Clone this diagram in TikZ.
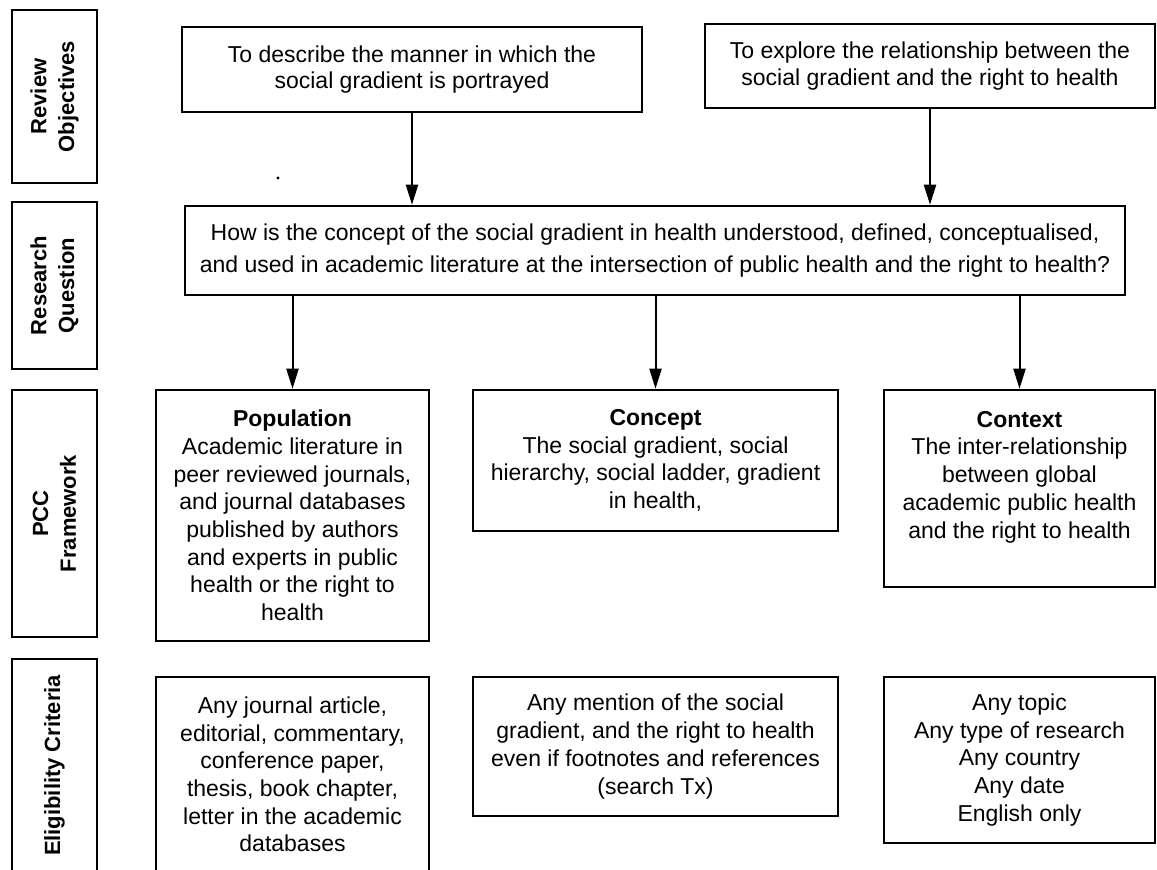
\documentclass[tikz,border=0pt]{standalone}
\usepackage{fontspec}
\setmainfont{Liberation Sans}
\usetikzlibrary{arrows.meta}
\newcommand{\hd}[1]{\textbf{#1}}
\tikzstyle{side}=[draw, line width=1.25pt, rotate=90, align=center, inner sep=0pt, minimum height=42.5pt, font=\fontsize{11}{13.85}\selectfont\bfseries]
\tikzstyle{bx}=[draw, line width=1.25pt, align=center, inner sep=2pt, font=\fontsize{11.5}{13.85}\selectfont]
\tikzstyle{arr}=[line width=1pt, -{Triangle[length=10pt,width=6pt]}]

\begin{document}
\begin{tikzpicture}[x=0.5pt, y=-0.5pt]
  \useasboundingbox (0,0) rectangle (1157,870);
  \clip (0,0) rectangle (1157,870);
  \node[side, minimum width=86.5pt] (sRO) at (54.5,96.5) {Review\\Objectives};
  \node[side, minimum width=83.5pt] (sRQ) at (54.5,285.5) {Research\\Question};
  \node[side, minimum width=123.5pt] (sPCC) at (54.5,513.5) {PCC\\Framework};
  \node[side, minimum width=106.5pt] (sEC) at (54.5,765.5) {Eligibility Criteria};

  \node[bx, minimum width=230pt, minimum height=42.5pt, font=\fontsize{11.5}{13.35}\selectfont] (obj1) at (412,69.5)
    {To describe the manner in which the\\social gradient is portrayed};
  \node[bx, minimum width=225pt, minimum height=42pt, font=\fontsize{11.5}{13.35}\selectfont] (obj2) at (930,66)
    {To explore the relationship between the\\social gradient and the right to health};
  \fill (278,178) circle (0.8pt);
  \node[bx, minimum width=470pt, minimum height=44.5pt, font=\fontsize{11.5}{15.85}\selectfont] (rq) at (655,250.5)
    {How is the concept of the social gradient in health understood, defined, conceptualised,\\and used in academic literature at the intersection of public health and the right to health?};

  \node[bx, minimum width=136.5pt, minimum height=125.5pt] (pop) at (292.5,515.5)
    {\hd{Population}\\Academic literature in\\peer reviewed journals,\\and journal databases\\published by authors\\and experts in public\\health or the right to\\health};
  \node[bx, minimum width=182.5pt, minimum height=70.5pt] (con) at (655.5,460.5)
    {\hd{Concept}\\The social gradient, social\\hierarchy, social ladder, gradient\\in health,};
  \node[bx, minimum width=135.5pt, minimum height=98.5pt] (ctx) at (1019.5,488.5)
    {\hd{Context}\\The inter-relationship\\between global\\academic public health\\and the right to health\\ \mbox{}};

  \node[bx, minimum width=136.5pt, minimum height=97.5pt] (epop) at (292.5,774.5)
    {Any journal article,\\editorial, commentary,\\conference paper,\\thesis, book chapter,\\letter in the academic\\databases};
  \node[bx, minimum width=182.5pt, minimum height=69.5pt] (econ) at (655.5,746.5)
    {Any mention of the social\\gradient, and the right to health\\even if footnotes and references\\(search Tx)};
  \node[bx, minimum width=135.5pt, minimum height=83pt] (ectx) at (1019.5,760)
    {Any topic\\Any type of research\\Any country\\Any date\\English only};

  \draw[arr] (obj1.south) -- (obj1.south |- rq.north);
  \draw[arr] (obj2.south) -- (obj2.south |- rq.north);
  \foreach \n in {pop,con,ctx}
    \draw[arr] (rq.south -| \n.north) -- (\n.north);
\end{tikzpicture}
\end{document}
